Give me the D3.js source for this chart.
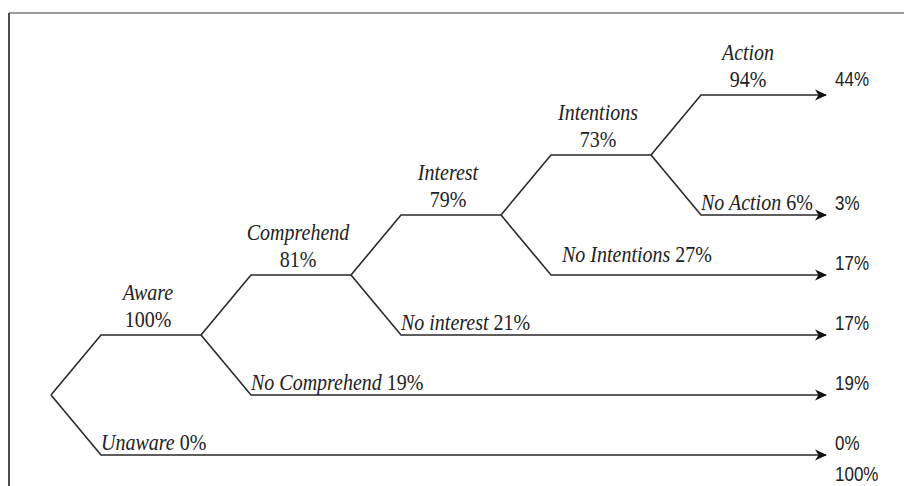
<!DOCTYPE html>
<html>
<head>
<meta charset="utf-8">
<script src="https://cdn.jsdelivr.net/npm/d3@7"></script>
<style>
  body { margin: 0; background: #fff; }
  svg { display: block; }
  .nm { font-family: "Liberation Serif", "Times New Roman", serif; font-size: 20px; fill: #222; }
  .out { font-family: "Liberation Sans", Arial, sans-serif; font-size: 17px; fill: #222; }
</style>
</head>
<body>
<svg id="chart" width="904" height="486"></svg>
<script>
// stages of the funnel, upper branch of each fork
let stages = ['Aware', 'Comprehend', 'Interest', 'Intentions', 'Action'];
let stage_pct = [100, 81, 79, 73, 94];
// lower branch (drop out) of each fork
let drops = ['Unaware', 'No Comprehend', 'No interest', 'No Intentions', 'No Action'];
let drop_pct = [0, 19, 21, 27, 6];
// final share at the end of each arrow, from bottom row up
let outcome_pct = [0, 19, 17, 17, 3, 44];
let total_pct = 100;

let svg = d3.select('#chart');

let xs = d3.scaleLinear().domain([0, 5]).range([51, 801]);
let ys = d3.scaleLinear().domain([0, 6]).range([455, 95]);
let dx = 50, tipX = 826;

// arrow head
svg.append('defs').append('marker')
    .attr('id', 'arr')
    .attr('viewBox', '0 -6 12 12')
    .attr('refX', 11).attr('refY', 0)
    .attr('markerWidth', 12).attr('markerHeight', 12)
    .attr('markerUnits', 'userSpaceOnUse')
    .attr('orient', 'auto')
    .append('path')
    .attr('d', 'M0,-5.5 L12,0 L0,5.5 L3.5,0 Z')
    .attr('fill', '#111');

// frame
svg.append('line').attr('x1', 9).attr('x2', 904).attr('y1', 13).attr('y2', 13)
    .attr('stroke', '#7a7a7a').attr('stroke-width', 1.5);
svg.append('line').attr('x1', 9).attr('x2', 9).attr('y1', 13).attr('y2', 486)
    .attr('stroke', '#111').attr('stroke-width', 1.5);

let g = svg.append('g');
let line = d3.line();

for (let i = 0; i < stages.length; i++) {
    let fx = xs(i), fy = ys(i + 1);
    let last = i === stages.length - 1;

    // upper branch
    let up = [[fx, fy], [fx + dx, ys(i + 2)], [last ? tipX : xs(i + 1), ys(i + 2)]];
    g.append('path').attr('d', line(up))
        .attr('fill', 'none').attr('stroke', '#2a2a2a').attr('stroke-width', 1.6)
        .attr('marker-end', last ? 'url(#arr)' : null);

    // lower branch
    let lo = [[fx, fy], [fx + dx, ys(i)], [tipX, ys(i)]];
    g.append('path').attr('d', line(lo))
        .attr('fill', 'none').attr('stroke', '#2a2a2a').attr('stroke-width', 1.6)
        .attr('marker-end', 'url(#arr)');

    // stage label
    let cx = fx + dx + 47;
    g.append('text').attr('class', 'nm')
        .attr('text-anchor', 'middle').style('font-style', 'italic')
        .attr('transform', 'translate(' + cx + ',' + (ys(i + 2) - 35) + ') scale(1,1.12)')
        .text(stages[i]);
    g.append('text').attr('class', 'nm')
        .attr('text-anchor', 'middle')
        .attr('transform', 'translate(' + cx + ',' + (ys(i + 2) - 8) + ') scale(1,1.12)')
        .text(stage_pct[i] + '%');

    // drop label
    let ox = i === 3 ? 11 : 0, oy = i === 3 ? -13 : -5;
    let t = g.append('text').attr('class', 'nm')
        .attr('transform', 'translate(' + (fx + dx + ox) + ',' + (ys(i) + oy) + ') scale(1,1.12)');
    t.append('tspan').style('font-style', 'italic').text(drops[i] + ' ');
    t.append('tspan').text(drop_pct[i] + '%');
}

// outcome shares at arrow ends
let rows = [0, 1, 2, 3, 4, 6];
g.selectAll('.out').data(outcome_pct).enter().append('text')
    .attr('class', 'out')
    .attr('transform', (d, i) => 'translate(835,' + (ys(rows[i]) - (rows[i] === 6 ? 9 : 5)) + ') scale(1,1.15)')
    .text(d => d + '%');

g.append('text').attr('class', 'out')
    .attr('transform', 'translate(835,481) scale(1,1.15)')
    .text(total_pct + '%');
</script>
</body>
</html>
